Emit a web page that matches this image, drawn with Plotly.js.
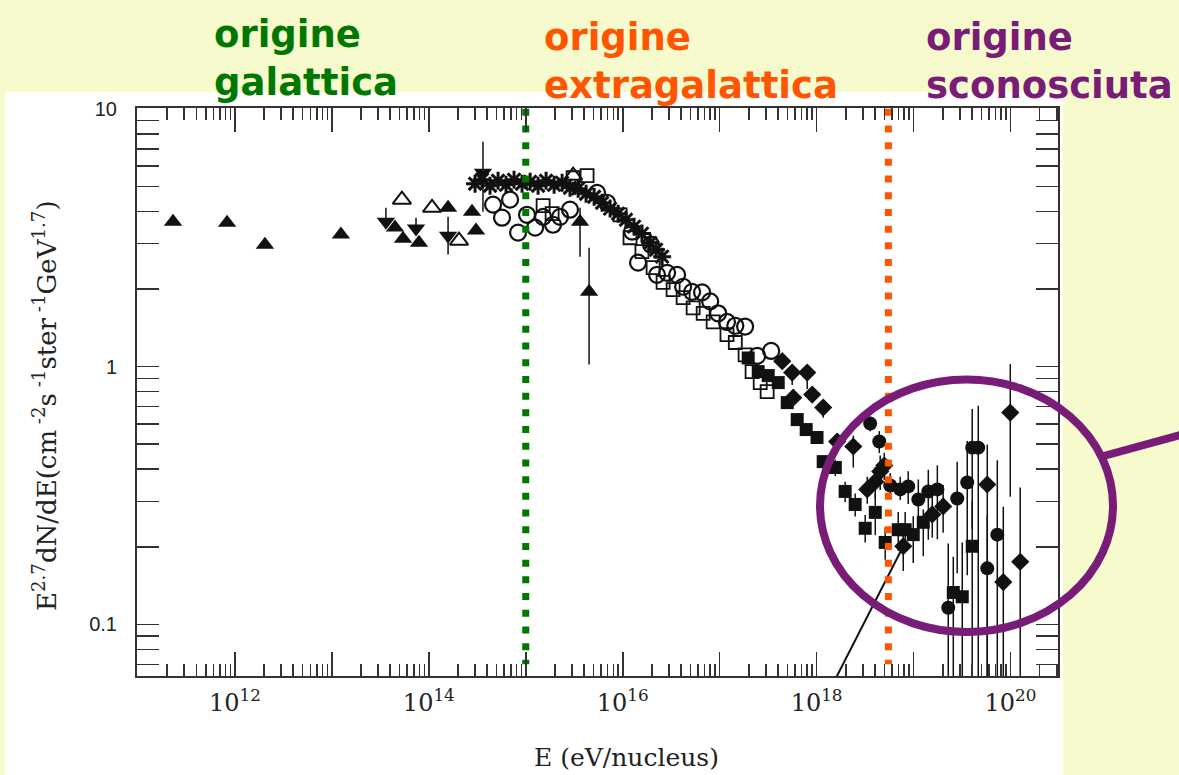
<!DOCTYPE html>
<html>
<head>
<meta charset="utf-8">
<script src="https://cdn.plot.ly/plotly-3.0.1.min.js"></script>
<style>html,body{margin:0;padding:0;background:#f7facd;}#chart{width:1179px;height:775px;}</style>
</head>
<body>
<div id="chart"></div>
<script>
// ---- data (E in eV/nucleus, flux in E^2.7 dN/dE units) ----
const triUpE = [2.3e11, 8.3e11, 2.04e12, 1.24e13, 4.48e13, 5.42e13, 7.92e13, 1.58e14, 2.79e14, 3.07e14, 3.63e15, 4.50e15];
const triUpF = [3.65, 3.61, 2.97, 3.25, 3.46, 3.13, 3.02, 4.13, 3.99, 3.37, 3.65, 1.95];
const triUpErrPlus  = [0, 0, 0, 0, 0, 0, 0, 0, 0, 0, 0.48, 0.94];
const triUpErrMinus = [0, 0, 0, 0, 0, 0, 0, 0, 0, 0, 0.98, 0.93];

const triOpenE = [5.28e13, 1.08e14, 2.05e14, 3.08e15];
const triOpenF = [4.44, 4.13, 3.08, 5.50];

const triDownE = [3.61e13, 7.38e13, 1.58e14, 3.62e14];
const triDownF = [3.65, 3.43, 3.22, 5.65];
const triDownErrPlus  = [0.48, 0.35, 0.59, 1.80];
const triDownErrMinus = [0, 0, 0.50, 1.66];

const starE = [3.00e14, 3.54e14, 4.28e14, 5.18e14, 6.26e14, 7.57e14, 9.16e14, 1.11e15, 1.34e15, 1.62e15, 1.96e15, 2.37e15, 2.86e15,
               3.47e15, 4.19e15, 5.07e15, 6.13e15, 7.41e15, 8.97e15, 1.08e16, 1.31e16, 1.58e16, 1.92e16, 2.21e16, 2.55e16];
const starF = [5.12, 5.31, 5.03, 5.26, 5.07, 5.31, 5.12, 5.21, 5.03, 5.26, 5.07, 5.17, 4.94,
               4.90, 4.68, 4.56, 4.32, 4.10, 3.92, 3.71, 3.49, 3.28, 3.02, 2.84, 2.67];

const circOpenE = [4.60e14, 5.69e14, 6.89e14, 8.33e14, 1.03e15, 1.25e15, 1.51e15, 1.91e15, 2.26e15, 2.86e15, 5.44e15, 6.90e15, 1.25e16, 1.44e16,
                   1.96e16, 2.26e16, 2.87e16, 3.64e16, 4.20e16, 5.20e16, 6.59e16, 7.98e16, 9.64e16, 1.19e17, 1.45e17, 1.83e17, 2.44e17, 3.40e17];
const circOpenF = [4.25, 3.78, 4.44, 3.31, 3.88, 3.46, 3.81, 3.55, 3.81, 4.06, 4.72, 4.32, 3.34, 2.53,
                   2.97, 2.27, 2.31, 2.27, 2.04, 1.95, 1.94, 1.79, 1.61, 1.49, 1.44, 1.43, 1.10, 1.15];

const sqOpenE = [1.51e15, 1.87e15, 3.08e15, 4.29e15, 9.40e15, 1.19e16, 1.58e16, 2.06e16, 2.61e16, 3.31e16, 4.20e16, 5.33e16, 6.76e16,
                 8.57e16, 1.19e17, 1.45e17, 1.83e17, 2.16e17, 2.62e17, 3.09e17];
const sqOpenF = [4.21, 3.92, 5.40, 5.50, 3.88, 3.16, 2.79, 2.42, 2.12, 1.99, 1.85, 1.69, 1.61,
                 1.49, 1.33, 1.24, 1.11, 0.956, 0.867, 0.80];

const sqE = [1.97e17, 2.50e17, 3.17e17, 4.02e17, 4.98e17, 6.31e17, 7.81e17, 1.01e18, 1.17e18, 1.56e18, 1.97e18, 2.50e18, 3.17e18,
             4.03e18, 5.10e18, 6.95e18, 8.20e18, 9.93e18, 1.26e19, 2.57e19, 3.18e19, 4.03e19];
const sqF = [1.08, 0.956, 0.923, 0.867, 0.725, 0.623, 0.570, 0.531, 0.428, 0.406, 0.328, 0.292, 0.236,
             0.272, 0.208, 0.233, 0.233, 0.223, 0.249, 0.133, 0.128, 0.201];
const sqErrPlus  = [0, 0, 0, 0, 0, 0, 0, 0, 0.02, 0.03, 0.03, 0.03, 0.03, 0.05, 0.03, 0.04, 0.04, 0.04, 0.03, 0.05, 0.08, 0.10];
const sqErrMinus = [0, 0, 0, 0, 0, 0, 0, 0, 0.02, 0.03, 0.03, 0.03, 0.028, 0.05, 0.03, 0.04, 0.04, 0.05, 0.065, 0.133, 0.128, 0.201];

const diaE = [4.42e17, 5.60e17, 8.00e17, 5.74e17, 9.01e17, 1.17e18, 1.63e18, 2.39e18, 3.33e18, 4.03e18, 4.53e18, 4.99e18,
              7.83e18, 1.56e19, 2.02e19, 5.76e19, 8.43e19, 9.95e19, 1.26e20];
const diaF = [1.05, 0.948, 0.948, 0.758, 0.779, 0.694, 0.512, 0.490, 0.334, 0.358, 0.392, 0.413,
              0.201, 0.267, 0.287, 0.349, 0.146, 0.663, 0.175];
const diaErrPlus  = [0, 0, 0, 0, 0, 0, 0.03, 0.05, 0.04, 0.05, 0.06, 0.05, 0.02, 0.05, 0.06, 0.15, 0.14, 0.36, 0.165];
const diaErrMinus = [0, 0.1, 0.13, 0, 0, 0.06, 0.03, 0.084, 0.04, 0.05, 0.06, 0.05, 0.04, 0.05, 0.06, 0.349, 0.146, 0.35, 0.175];

const dotE = [3.57e18, 4.43e18, 5.75e18, 7.29e18, 8.81e18, 1.12e19, 1.42e19, 1.76e19, 2.82e19, 3.58e19, 4.03e19, 4.65e19,
              5.76e19, 7.31e19, 2.28e19];
const dotF = [0.601, 0.512, 0.346, 0.334, 0.343, 0.305, 0.328, 0.334, 0.308, 0.355, 0.485, 0.485,
              0.165, 0.223, 0.116];
const dotErrPlus  = [0.04, 0.05, 0.04, 0.04, 0.05, 0.06, 0.07, 0.08, 0.12, 0.16, 0.20, 0.22, 0.10, 0.21, 0.09];
const dotErrMinus = [0.04, 0.05, 0.04, 0.03, 0.05, 0.06, 0.115, 0.12, 0.15, 0.20, 0.25, 0.485, 0.165, 0.223, 0.116];

// power-law line in the ankle region
const lineE = [1.26e18, 7.83e18];
const lineF = [0.0524, 0.201];

// boundaries between origins
const galacticLimit = 1e15;
const extragalacticLimit = 5.5e18;
const boundaryF = [10, 0.07];

// tick labels
const xLabelVals = [1e12, 1e14, 1e16, 1e18, 1e20];
const xLabelText = ['10<sup>12</sup>', '10<sup>14</sup>', '10<sup>16</sup>', '10<sup>18</sup>', '10<sup>20</sup>'];
const xOddDecades = [1e13, 1e15, 1e17, 1e19];
const yTickVals = [0.1, 1, 10];
const yTickText = ['0.1', '1', '10'];

const regionLabels = ['origine<br>galattica', 'origine<br>extragalattica', 'origine<br>sconosciuta'];
const xTitle = 'E (eV/nucleus)';
const yTitle = 'E<sup>2.7</sup>dN/dE(cm<sup> -2</sup>s<sup> -1</sup>ster<sup> -1</sup>GeV<sup>1.7</sup>)';

// ---- minor tick positions ----
const minorX = [];
for (let d = 11; d <= 20; d++) for (let m = 2; m <= 9; m++) minorX.push(m * Math.pow(10, d));
const minorY = [];
for (let d = -2; d <= 0; d++) for (let m = 2; m <= 9; m++) minorY.push(m * Math.pow(10, d));

const BLACK = '#111';
const err = (p, m) => ({type: 'data', symmetric: false, array: p, arrayminus: m, color: BLACK, thickness: 1.5, width: 0});

function markers(x, y, symbol, size, lineWidth, extra) {
  const t = {type: 'scatter', mode: 'markers', x: x, y: y,
    marker: {symbol: symbol, size: size, color: BLACK, line: {color: BLACK, width: lineWidth}}, hoverinfo: 'skip'};
  return Object.assign(t, extra || {});
}

const traces = [
  markers(triUpE, triUpF, 'triangle-up', 16, 0, {error_y: err(triUpErrPlus, triUpErrMinus)}),
  markers(triDownE, triDownF, 'triangle-down', 16, 0, {error_y: err(triDownErrPlus, triDownErrMinus)}),
  markers(starE, starF, 'asterisk-open', 15, 3),
  markers(triOpenE, triOpenF, 'triangle-up-open', 16, 2),
  markers(sqOpenE, sqOpenF, 'square-open', 13, 1.8),
  markers(circOpenE, circOpenF, 'circle-open', 16, 2.2),
  markers(sqE, sqF, 'square', 13, 0, {error_y: err(sqErrPlus, sqErrMinus)}),
  markers(diaE, diaF, 'diamond', 14, 0, {error_y: err(diaErrPlus, diaErrMinus)}),
  markers(dotE, dotF, 'circle', 14, 0, {error_y: err(dotErrPlus, dotErrMinus)}),
  {type: 'scatter', mode: 'lines', x: lineE, y: lineF, line: {color: BLACK, width: 2}, hoverinfo: 'skip'},
  {type: 'scatter', mode: 'lines', x: [galacticLimit, galacticLimit], y: boundaryF,
   line: {color: '#007800', width: 7, dash: '7px,9.7px'}, hoverinfo: 'skip'},
  {type: 'scatter', mode: 'lines', x: [extragalacticLimit, extragalacticLimit], y: boundaryF,
   line: {color: '#ff5500', width: 7, dash: '7px,9.7px'}, hoverinfo: 'skip'},
  // empty trace that only carries the overlay axis with the unlabelled decade ticks
  {type: 'scatter', mode: 'markers', x: [], y: [], xaxis: 'x2', yaxis: 'y', hoverinfo: 'skip'}
];

const L = 137, R = 1058, T = 108, B = 676;
const px = v => (v - L) / (R - L);
const py = v => (B - v) / (B - T);

const axisCommon = {
  type: 'log', showgrid: false, zeroline: false, showline: true, linecolor: '#333', linewidth: 2,
  mirror: 'allticks', ticks: 'inside', tickwidth: 1.6, tickcolor: '#333', tickmode: 'array'
};
const XRANGE = [10.99, 20.49];
const titleFont = {family: 'DejaVu Serif', color: '#222'};

const layout = {
  width: 1179, height: 775,
  margin: {l: L, r: 1179 - R, t: T, b: 775 - B, pad: 0},
  paper_bgcolor: '#f7facd',
  plot_bgcolor: '#ffffff',
  showlegend: false,
  hovermode: false,
  xaxis: Object.assign({}, axisCommon, {
    range: XRANGE, tickvals: xLabelVals, ticktext: xLabelText, ticklen: 24,
    minor: {tickmode: 'array', tickvals: minorX, ticks: 'inside', ticklen: 12, tickwidth: 1.6, tickcolor: '#333', showgrid: false},
    tickfont: {family: 'DejaVu Serif', size: 24, color: '#222'},
    ticklabelstandoff: 4
  }),
  xaxis2: Object.assign({}, axisCommon, {
    overlaying: 'x', anchor: 'y', side: 'bottom',
    range: XRANGE, tickvals: xOddDecades, ticklen: 24, showticklabels: false
  }),
  yaxis: Object.assign({}, axisCommon, {
    range: [-1.2, 1.003], tickvals: yTickVals, ticktext: yTickText, ticklen: 22,
    minor: {tickmode: 'array', tickvals: minorY, ticks: 'inside', ticklen: 12, tickwidth: 1.6, tickcolor: '#333', showgrid: false},
    tickfont: {family: 'Liberation Sans', size: 20, color: '#222'},
    ticklabelstandoff: 14
  }),
  shapes: [
    {type: 'rect', xref: 'paper', yref: 'paper', layer: 'below', x0: px(5), x1: px(1063), y0: py(800), y1: py(92),
     fillcolor: '#ffffff', line: {width: 0}},
    {type: 'circle', xref: 'paper', yref: 'paper', x0: px(820), x1: px(1113), y0: py(632), y1: py(379.5),
     line: {color: '#781c78', width: 8}},
    {type: 'line', xref: 'paper', yref: 'paper', x0: px(1100), y0: py(457), x1: px(1195), y1: py(431),
     line: {color: '#781c78', width: 8}}
  ],
  annotations: [
    {text: xTitle, xref: 'paper', yref: 'paper', x: px(626), y: py(757), xanchor: 'center', yanchor: 'middle', showarrow: false,
     font: Object.assign({size: 25}, titleFont)},
    {text: yTitle, xref: 'paper', yref: 'paper', x: px(45), y: py(406), xanchor: 'center', yanchor: 'middle', showarrow: false,
     textangle: -90, font: Object.assign({size: 26}, titleFont)},
    {text: regionLabels[0], xref: 'paper', yref: 'paper', x: px(212), y: py(11), xanchor: 'left', yanchor: 'top', align: 'left', showarrow: false,
     font: {family: 'DejaVu Sans', size: 37, color: '#007800', weight: 'bold'}},
    {text: regionLabels[1], xref: 'paper', yref: 'paper', x: px(542), y: py(14), xanchor: 'left', yanchor: 'top', align: 'left', showarrow: false,
     font: {family: 'DejaVu Sans', size: 37, color: '#ff5500', weight: 'bold'}},
    {text: regionLabels[2], xref: 'paper', yref: 'paper', x: px(924), y: py(14), xanchor: 'left', yanchor: 'top', align: 'left', showarrow: false,
     font: {family: 'DejaVu Sans', size: 37, color: '#781c78', weight: 'bold'}}
  ]
};

Plotly.newPlot('chart', traces, layout, {staticPlot: true, displayModeBar: false});
</script>
</body>
</html>
